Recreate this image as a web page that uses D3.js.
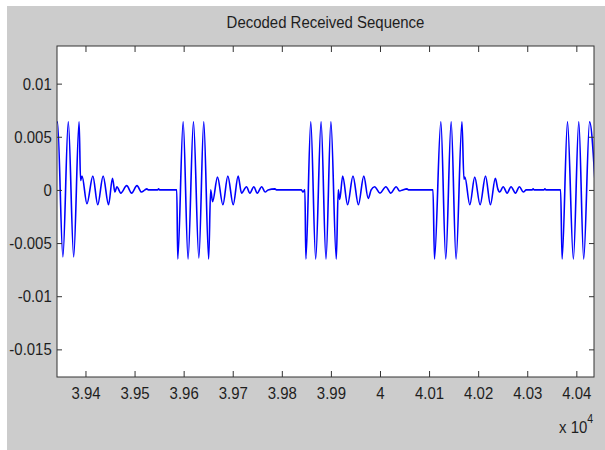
<!DOCTYPE html>
<html>
<head>
<meta charset="utf-8">
<script src="https://cdn.jsdelivr.net/npm/d3@7"></script>
<style>
  body { margin: 0; background: #ffffff; }
  svg { display: block; font-family: "Liberation Sans", Arial, sans-serif; }
</style>
</head>
<body>
<div id="chart"></div>
<script>
// Values (sample index, amplitude)
const titleText = "Decoded Received Sequence";

const xTicks = [39400, 39500, 39600, 39700, 39800, 39900, 40000, 40100, 40200, 40300, 40400];
const xTickLabels = ["3.94", "3.95", "3.96", "3.97", "3.98", "3.99", "4", "4.01", "4.02", "4.03", "4.04"];
const yTicks = [0.01, 0.005, 0, -0.005, -0.01, -0.015];
const yTickLabels = ["0.01", "0.005", "0", "-0.005", "-0.01", "-0.015"];

const sigX = [
  39328, 39343, 39354, 39365, 39376, 39387, 39390, 39393, 39403, 39415,
  39425, 39436, 39447, 39455, 39460, 39464, 39472, 39484, 39494, 39505,
  39514, 39521, 39525, 39528, 39547, 39549, 39551, 39586,
  39588, 39599, 39609, 39620, 39631, 39641, 39651, 39655, 39659, 39669,
  39680, 39690, 39701, 39711, 39718, 39728, 39735, 39743, 39750, 39759,
  39766, 39772, 39786, 39789, 39840, 39843, 39847,
  39849, 39859, 39869, 39880, 39890, 39900, 39911, 39915, 39918, 39924,
  39934, 39945, 39956, 39967, 39976, 39982, 39989, 40000, 40012, 40022,
  40033, 40040, 40046, 40055, 40058, 40108,
  40111, 40124, 40134, 40145, 40155, 40167, 40171, 40173, 40183, 40193,
  40204, 40215, 40225, 40235, 40240, 40244, 40251, 40259, 40267, 40276,
  40284, 40292, 40298, 40310, 40312, 40314, 40334, 40336, 40338, 40368,
  40371, 40382, 40394, 40405, 40415, 40427, 40438
];
const sigY = [
  -0.0065, 0.0064, -0.0063, 0.0064, -0.0063, 0.0064, 0.0009, 0.0013, -0.0013, 0.0013,
  -0.0014, 0.0013, -0.0014, 0.0011, -0.0002, 0.0003, -0.0003, 0.0004, -0.0003, 0.0004,
  -0.0002, 0.0000, 0.0001, 0.0000, 0.0000, 0.0001, 0.0000, 0.0000,
  -0.0065, 0.0064, -0.0065, 0.0064, -0.0064, 0.0064, -0.0065, 0.0000, -0.0011, 0.0012,
  -0.0014, 0.0013, -0.0014, 0.0013, -0.0003, 0.0003, -0.0003, 0.0003, -0.0003, 0.0003,
  -0.0002, 0.0000, 0.0001, 0.0000, 0.0000, -0.0002, 0.0000,
  -0.0065, 0.0064, -0.0065, 0.0064, -0.0065, 0.0064, -0.0065, 0.0000, -0.0009, 0.0013,
  -0.0014, 0.0013, -0.0014, 0.0013, -0.0008, 0.0000, 0.0003, -0.0003, 0.0003, -0.0003,
  0.0003, -0.0001, 0.0000, 0.0001, 0.0000, 0.0000,
  -0.0065, 0.0064, -0.0065, 0.0064, -0.0065, 0.0064, 0.0010, 0.0012, -0.0014, 0.0012,
  -0.0014, 0.0013, -0.0014, 0.0011, 0.0001, -0.0002, 0.0003, -0.0003, 0.0003, -0.0003,
  0.0003, -0.0002, 0.0000, 0.0000, 0.0001, 0.0000, 0.0000, 0.0001, 0.0000, 0.0000,
  -0.0065, 0.0064, -0.0065, 0.0064, -0.0065, 0.0064, 0.0008
];

const W = 605, H = 450;
const plot = { left: 57, top: 46, right: 594, bottom: 377 };
const squeeze = 0.88; // the reference glyphs are horizontally narrow
const ink = "#1e1e1e";
const axisColor = "#333333";

const svg = d3.select("#chart").append("svg")
    .attr("width", W)
    .attr("height", H);

// figure background (white strip on top/left, then gray)
svg.append("rect").attr("width", W).attr("height", H).attr("fill", "#ffffff");
svg.append("rect").attr("x", 7).attr("y", 6).attr("width", W - 7).attr("height", H - 6).attr("fill", "#cccccc");

// axes area
svg.append("rect")
    .attr("x", plot.left).attr("y", plot.top)
    .attr("width", plot.right - plot.left).attr("height", plot.bottom - plot.top)
    .attr("fill", "#ffffff");

const x = d3.scaleLinear().domain([39342, 40436]).range([plot.left, plot.right]);
const y = d3.scaleLinear().domain([-0.0176, 0.01354]).range([plot.bottom, plot.top]);

svg.append("clipPath").attr("id", "clip")
  .append("rect")
    .attr("x", plot.left).attr("y", plot.top)
    .attr("width", plot.right - plot.left).attr("height", plot.bottom - plot.top);

// signal
const points = d3.zip(sigX, sigY);
const line = d3.line()
    .x(d => x(d[0]))
    .y(d => y(d[1]))
    .curve(d3.curveMonotoneX);

svg.append("path")
    .datum(points)
    .attr("clip-path", "url(#clip)")
    .attr("fill", "none")
    .attr("stroke", "#0000ff")
    .attr("stroke-width", 1.6)
    .attr("d", line);

// bottom axis with labels
const gx = svg.append("g")
    .attr("transform", `translate(0,${plot.bottom})`)
    .call(d3.axisBottom(x).tickValues(xTicks).tickFormat((d, i) => xTickLabels[i]).tickSize(-6).tickPadding(10));
gx.select(".domain").remove();
gx.selectAll("line").attr("stroke", axisColor);
gx.selectAll("text")
    .attr("fill", ink)
    .style("font-size", "17px")
    .style("font-family", "'Liberation Sans', Arial, sans-serif")
    .attr("transform", `scale(${squeeze},1)`);

// top ticks
const gxTop = svg.append("g")
    .attr("transform", `translate(0,${plot.top})`)
    .call(d3.axisTop(x).tickValues(xTicks).tickFormat("").tickSize(-6));
gxTop.select(".domain").remove();
gxTop.selectAll("line").attr("stroke", axisColor);

// left axis with labels
const gy = svg.append("g")
    .attr("transform", `translate(${plot.left},0)`)
    .call(d3.axisLeft(y).tickValues(yTicks).tickFormat((d, i) => yTickLabels[i]).tickSize(-5).tickPadding(6));
gy.select(".domain").remove();
gy.selectAll("line").attr("stroke", axisColor);
gy.selectAll("text")
    .attr("fill", ink)
    .style("font-size", "17px")
    .style("font-family", "'Liberation Sans', Arial, sans-serif")
    .attr("transform", `scale(${squeeze},1)`);

// right ticks
const gyRight = svg.append("g")
    .attr("transform", `translate(${plot.right},0)`)
    .call(d3.axisRight(y).tickValues(yTicks).tickFormat("").tickSize(-5));
gyRight.select(".domain").remove();
gyRight.selectAll("line").attr("stroke", axisColor);

// box
svg.append("rect")
    .attr("x", plot.left).attr("y", plot.top)
    .attr("width", plot.right - plot.left).attr("height", plot.bottom - plot.top)
    .attr("fill", "none")
    .attr("stroke", axisColor)
    .attr("stroke-width", 1);

// title
svg.append("g")
    .attr("transform", `translate(325.5,28) scale(${squeeze},1)`)
  .append("text")
    .attr("text-anchor", "middle")
    .attr("fill", ink)
    .style("font-size", "17px")
    .text(titleText);

// exponent label
const expo = svg.append("g")
    .attr("transform", `translate(559,433) scale(${squeeze},1)`)
  .append("text")
    .attr("fill", ink)
    .style("font-size", "17px");
expo.append("tspan").text("x 10");
expo.append("tspan").attr("dy", -10).style("font-size", "12px").text("4");
</script>
</body>
</html>
